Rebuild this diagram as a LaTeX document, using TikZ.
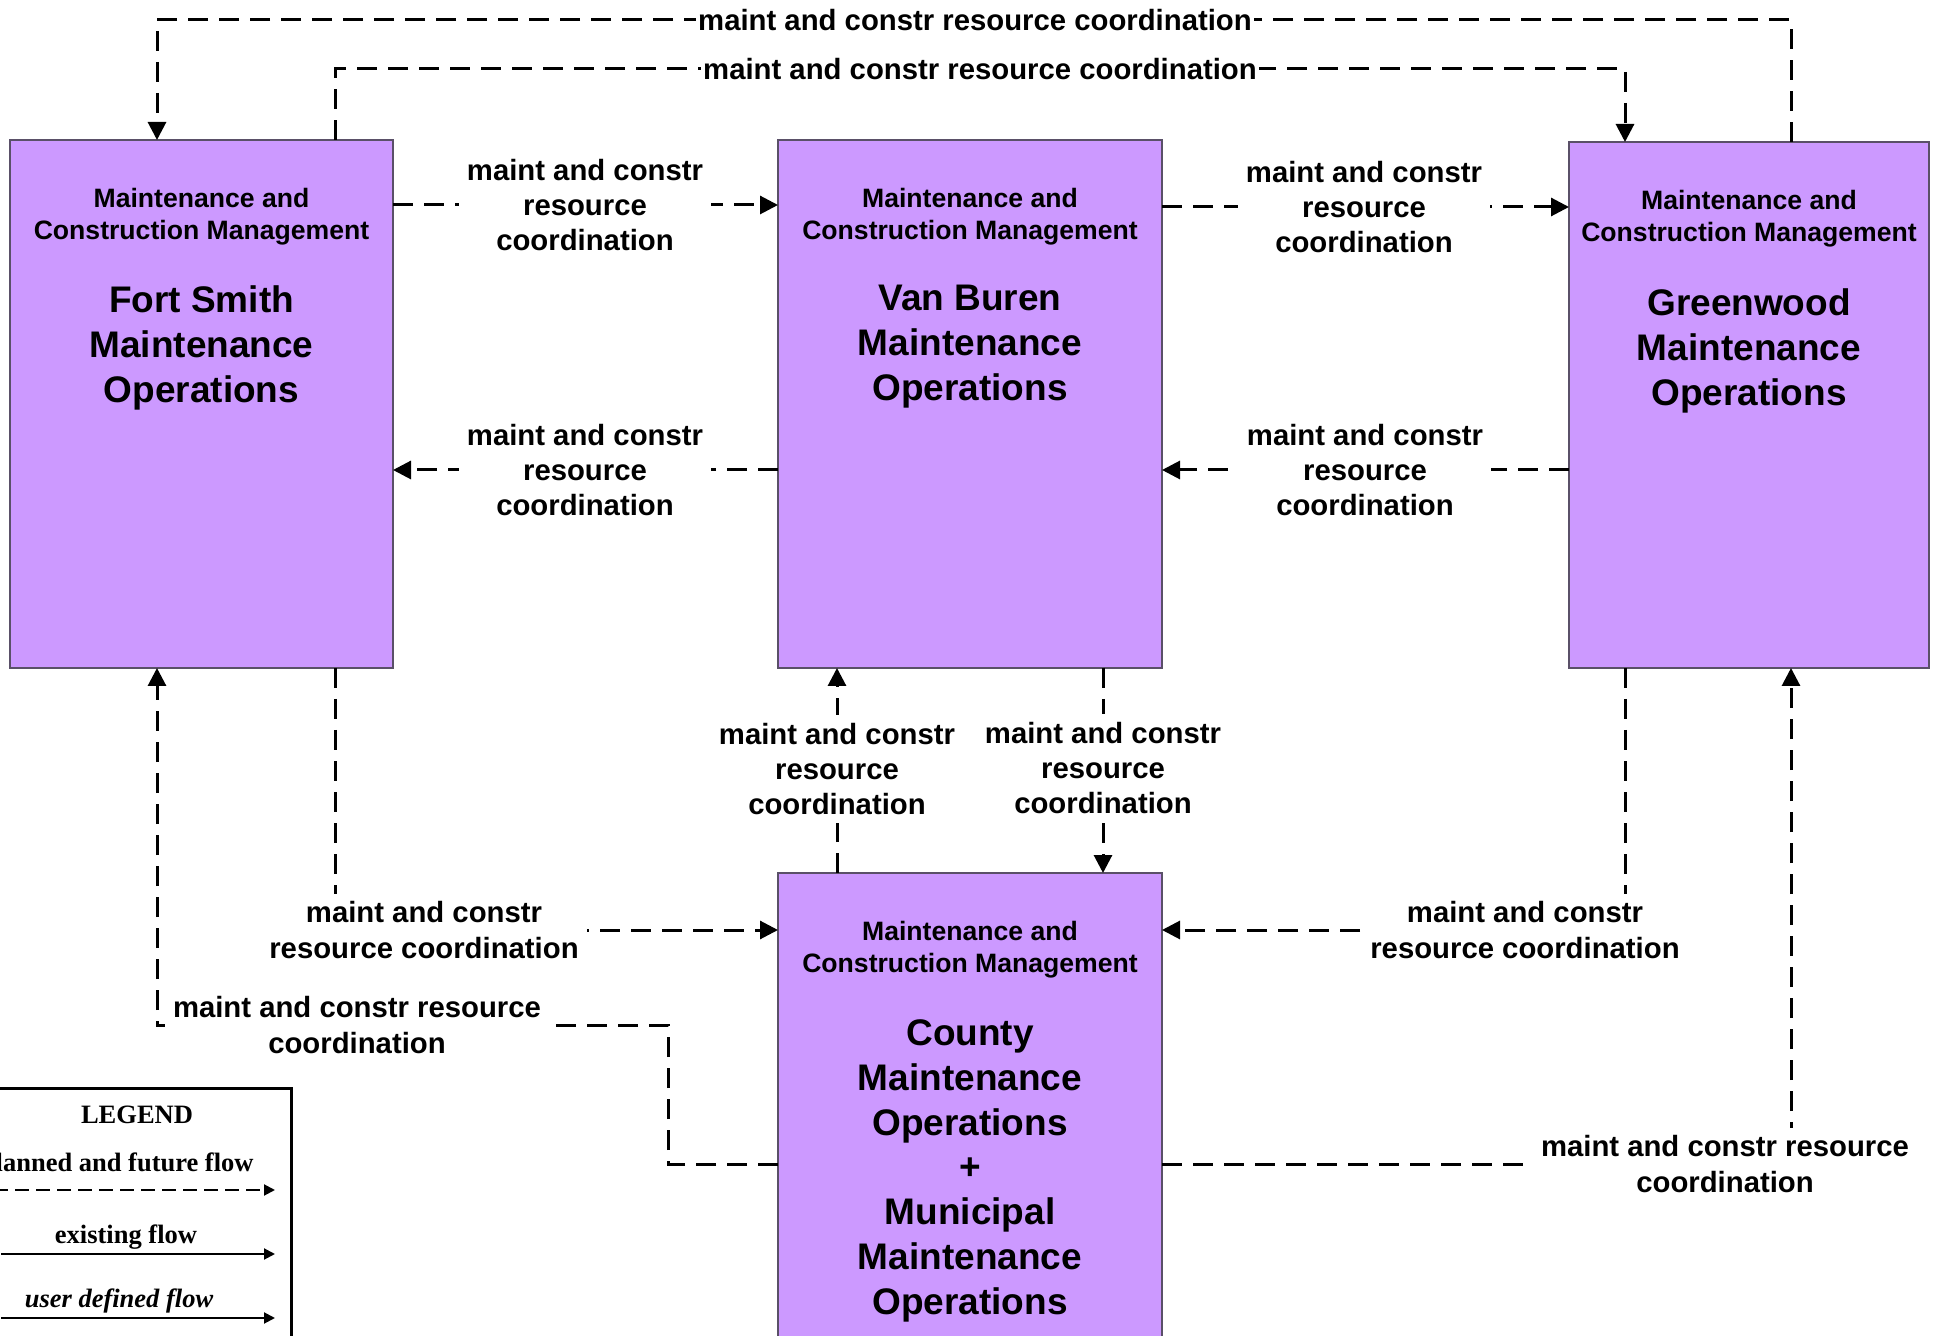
\documentclass[tikz,border=0pt]{standalone}
\usepackage{fontspec}
\setmainfont{Liberation Sans}
\newfontfamily\legfont{Liberation Serif}
\usetikzlibrary{arrows.meta}
\definecolor{boxfill}{HTML}{CC99FF}
\definecolor{boxline}{HTML}{5A5068}
\newcommand\hdrfont{\fontsize{13.3pt}{16pt}\selectfont\bfseries}
\newcommand\ttlfont{\fontsize{18.5pt}{22.45pt}\selectfont\bfseries}
\newcommand\lblfont{\fontsize{14.65pt}{17.6pt}\selectfont\bfseries}
\newcommand\lgdfont{\legfont\fontsize{13.25pt}{16pt}\selectfont\bfseries}
\begin{document}
\begin{tikzpicture}[x=0.5pt,y=-0.5pt,
  mbox/.style={draw=boxline,line width=0.8pt,fill=boxfill,inner sep=0pt,outer sep=0pt},
  hdr/.style={font=\hdrfont,align=center,inner sep=0pt,anchor=north},
  ttl/.style={font=\ttlfont,align=center,inner sep=0pt,anchor=north},
  flow/.style={line width=1.5pt,dash pattern=on 10pt off 5.5pt,-{Triangle[length=9pt,width=9pt]}},
  lbl/.style={font=\lblfont,align=center,fill=white,inner sep=4pt},
  lblt/.style={lbl,inner sep=1pt},
  legtxt/.style={font=\lgdfont,inner sep=0pt,anchor=base},
  legline/.style={line width=1pt,-{Triangle[length=5.5pt,width=5.5pt]}}
]
\useasboundingbox (0,0) rectangle (1939,1336);
\clip (0,0) rectangle (1939,1336);

% boxes
\node[mbox,minimum width=191.5pt,minimum height=264pt] (fs) at (201.5,404) {};
\node[mbox,minimum width=192pt,minimum height=264pt] (vb) at (970,404) {};
\node[mbox,minimum width=180pt,minimum height=263pt] (gw) at (1749,405) {};
\node[mbox,minimum width=192pt,minimum height=240pt] (co) at (970,1113) {};

\node[hdr] (fsh) at (201.5,188) {Maintenance and\\Construction Management};
\node[ttl] (fst) at (201.5,285) {Fort Smith\\Maintenance\\Operations};
\node[hdr] (vbh) at (970,188) {Maintenance and\\Construction Management};
\node[ttl] (vbt) at (970,285) {Van Buren\\Maintenance\\Operations};
\node[hdr] (gwh) at (1749,190) {Maintenance and\\Construction Management};
\node[ttl] (gwt) at (1749,288) {Greenwood\\Maintenance\\Operations};
\node[hdr] (coh) at (970,921) {Maintenance and\\Construction Management};
\node[ttl] (cot) at (970,1019) {County\\Maintenance\\Operations\\+\\Municipal\\Maintenance\\Operations};

% coordinates
\coordinate (t1) at (1791,20);
\coordinate (t2) at (157,20);
\coordinate (t3) at (335,69);
\coordinate (t4) at (1625,69);
\coordinate (p1) at (975,20);
\coordinate (p2) at (980,69);
\coordinate (p3) at (585,205);
\coordinate (p4) at (1364,207);
\coordinate (p5) at (585,470);
\coordinate (p6) at (1365,470);
\coordinate (p7) at (837,769);
\coordinate (p8) at (1103,768);
\coordinate (k9) at (335,930);
\coordinate (k10) at (1625,930);
\coordinate (k11a) at (668,1164);
\coordinate (k11b) at (668,1025);
\coordinate (k11c) at (157,1025);
\coordinate (k12) at (1791,1164);

% connectors
\draw[flow] (gw.north -| t1) -- (t1) -- (t2) -- (fs.north -| t2);
\draw[flow] (fs.north -| t3) -- (t3) -- (t4) -- (gw.north -| t4);
\draw[flow] (fs.east |- p3) -- (vb.west |- p3);
\draw[flow] (vb.east |- p4) -- (gw.west |- p4);
\draw[flow] (vb.west |- p5) -- (fs.east |- p5);
\draw[flow] (gw.west |- p6) -- (vb.east |- p6);
\draw[flow] (co.north -| p7) -- (vb.south -| p7);
\draw[flow] (vb.south -| p8) -- (co.north -| p8);
\draw[flow] (fs.south -| k9) -- (k9) -- (co.west |- k9);
\draw[flow] (gw.south -| k10) -- (k10) -- (co.east |- k10);
\draw[flow] (co.west |- k11a) -- (k11a) -- (k11b) -- (k11c) -- (fs.south -| k11c);
\draw[flow] (co.east |- k12) -- (k12) -- (gw.south -| k12);

% labels
\node[lblt] (l1) at (p1) {maint and constr resource coordination};
\node[lblt] (l2) at (p2) {maint and constr resource coordination};
\node[lbl] (l3) at (p3) {maint and constr\\resource\\coordination};
\node[lbl] (l4) at (p4) {maint and constr\\resource\\coordination};
\node[lbl] (l5) at (p5) {maint and constr\\resource\\coordination};
\node[lbl] (l6) at (p6) {maint and constr\\resource\\coordination};
\node[lbl] (l7) at (p7) {maint and constr\\resource\\coordination};
\node[lbl] (l8) at (p8) {maint and constr\\resource\\coordination};
\node[lbl] (l9) at (424,930) {maint and constr\\resource coordination};
\node[lbl] (l10) at (1525,930) {maint and constr\\resource coordination};
\node[lbl] (l11) at (357,1025) {maint and constr resource\\coordination};
\node[lbl] (l12) at (1725,1164) {maint and constr resource\\coordination};

% legend
\node[draw,line width=1.5pt,fill=white,inner sep=0pt,outer sep=0pt,minimum width=160pt,minimum height=140pt] (leg) at (131,1228) {};
\node[legtxt] (legt) at (137,1123) {LEGEND};
\node[legtxt,anchor=base east] (leg1) at (254,1171) {Planned and future flow};
\coordinate (la1) at (-6,1190);
\coordinate (lb1) at (275,1190);
\draw[legline,dash pattern=on 7pt off 3.5pt] (la1) -- (lb1);
\node[legtxt] (leg2) at (126,1243) {existing flow};
\coordinate (la2) at (1,1254);
\coordinate (lb2) at (275,1254);
\draw[legline] (la2) -- (lb2);
\node[legtxt] (leg3) at (119,1307) {\itshape user defined flow};
\coordinate (la3) at (1,1318);
\coordinate (lb3) at (275,1318);
\draw[legline] (la3) -- (lb3);
\end{tikzpicture}
\end{document}
